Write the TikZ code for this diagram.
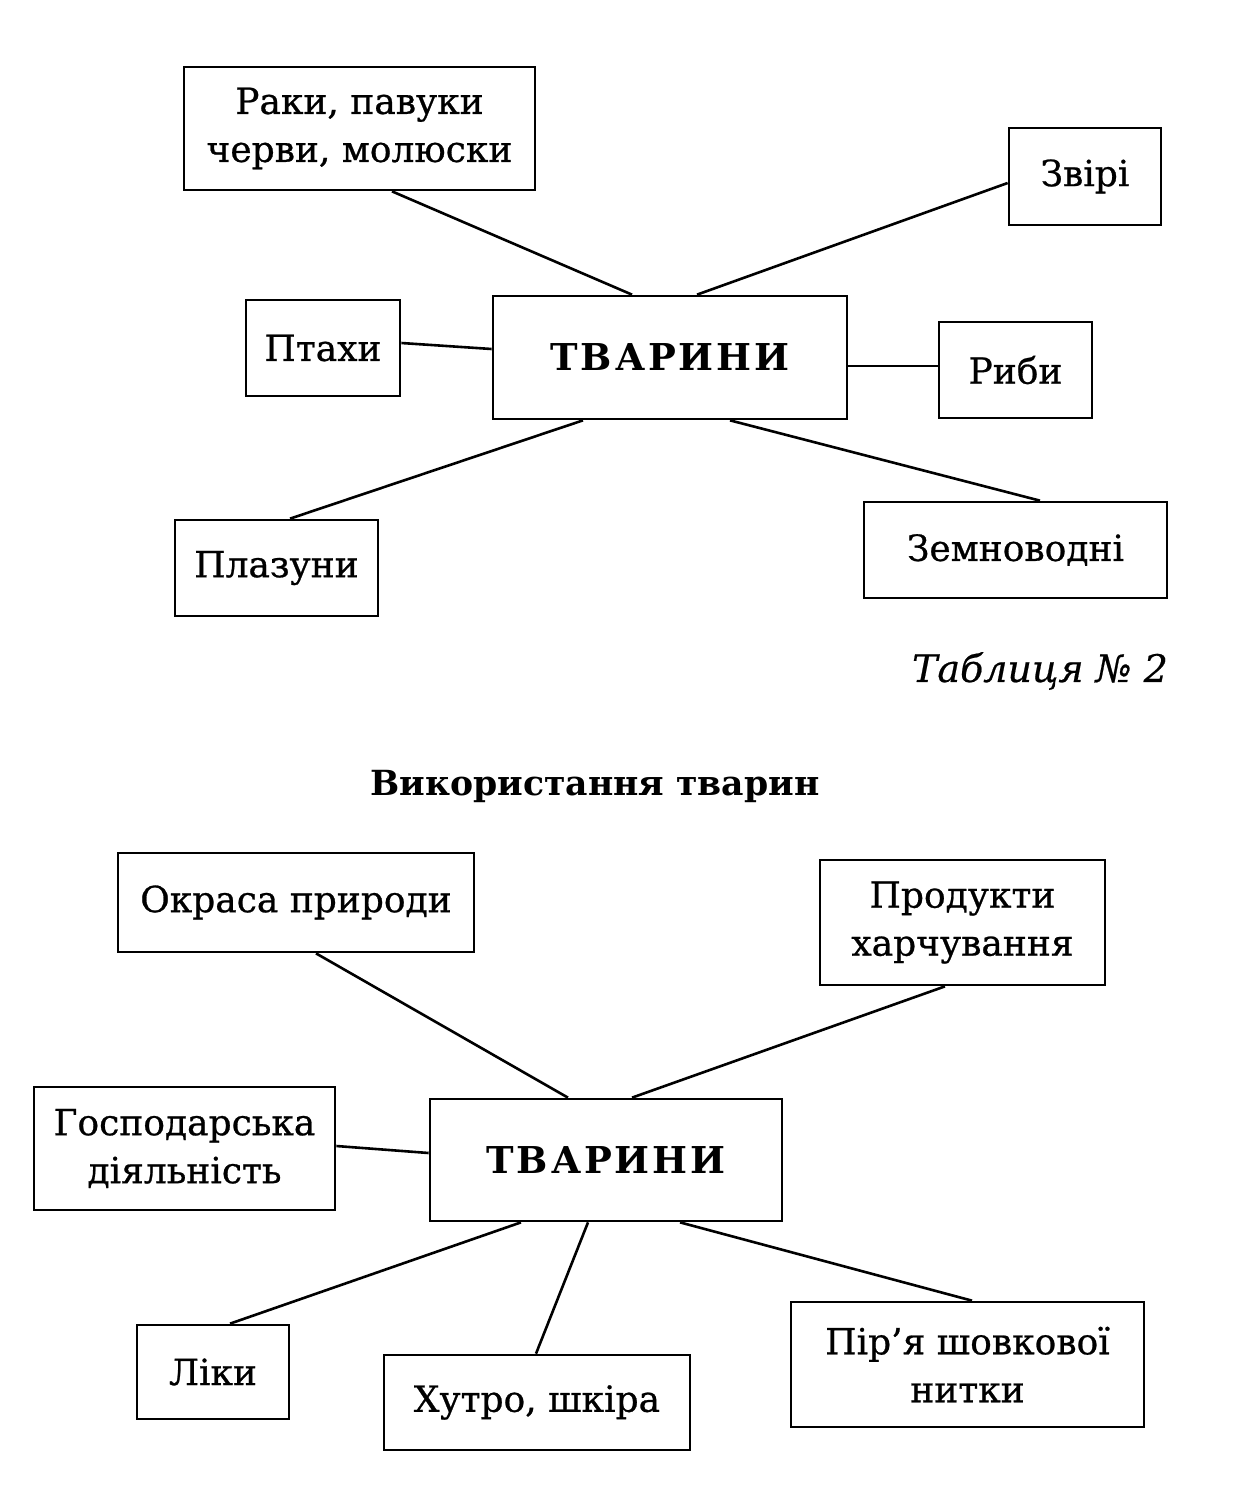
\documentclass[tikz,border=0pt]{standalone}
\usepackage{fontspec}
\setmainfont{DejaVu Serif}[UprightFeatures={FakeBold=0.7},ItalicFeatures={FakeBold=0.5}]
\newfontfamily\spacedbold[LetterSpace=8,BoldFont={DejaVu Serif Bold}]{DejaVu Serif}
\begin{document}
\begin{tikzpicture}[x=0.5pt,y=-0.5pt,
  box/.style={draw,line width=1.35pt,rectangle,inner sep=0pt,align=center,
    font=\fontsize{18}{24}\selectfont},
  centre/.style={box,font=\spacedbold\bfseries\fontsize{18.5}{24}\selectfont},
  link/.style={line width=1.3pt}]
\useasboundingbox (0,0) rectangle (1239,1495);
% --- top diagram ---
\node[box,minimum width=175.5pt,minimum height=61.5pt] (rak) at (359.5,128.5) {Раки, павуки\\черви, молюски};
\node[box,minimum width=76pt,minimum height=48.5pt] (zviri) at (1085,176.5) {Звірі};
\node[box,minimum width=77pt,minimum height=48pt] (ptahy) at (323,348) {Птахи};
\node[centre,minimum width=177pt,minimum height=61.5pt] (tv1) at (670,357.5) {ТВАРИНИ};
\node[box,minimum width=76.5pt,minimum height=48pt] (ryby) at (1015.5,370) {Риби};
\node[box,minimum width=101.5pt,minimum height=48pt] (plaz) at (276.5,568) {Плазуни};
\node[box,minimum width=151.5pt,minimum height=48pt] (zemn) at (1015.5,550) {Земноводні};
\node[font=\itshape\fontsize{19}{24}\selectfont,anchor=east] (tabl) at (1175,671) {Таблиця № 2};
\node[font=\bfseries\fontsize{17.3}{24}\selectfont] (title) at (595,786) {Використання тварин};
\draw[link] ([xshift=16.25pt]rak.south) -- ([xshift=-19pt]tv1.north);
\draw[link] ([yshift=-3.25pt]zviri.west) -- ([xshift=13.5pt]tv1.north);
\draw[link] ([yshift=2.5pt]ptahy.east) -- ([yshift=4.25pt]tv1.west);
\draw[link] ([yshift=-4.25pt]tv1.east) -- ([yshift=2pt]ryby.west);
\draw[link] ([xshift=-43.5pt]tv1.south) -- ([xshift=6.75pt]plaz.north);
\draw[link] ([xshift=30pt]tv1.south) -- ([xshift=12.25pt]zemn.north);
% --- bottom diagram ---
\node[box,minimum width=178pt,minimum height=49.5pt] (okr) at (296,902.5) {Окраса природи};
\node[box,minimum width=142.5pt,minimum height=62.5pt] (prod) at (962.5,922.5) {Продукти\\харчування};
\node[box,minimum width=150.5pt,minimum height=61.5pt] (gosp) at (184.5,1148.5) {Господарська\\діяльність};
\node[centre,minimum width=176pt,minimum height=61pt] (tv2) at (606,1160) {ТВАРИНИ};
\node[box,minimum width=76pt,minimum height=47pt] (liky) at (213,1372) {Ліки};
\node[box,minimum width=153pt,minimum height=47.5pt] (hutro) at (537,1402.5) {Хутро, шкіра};
\node[box,minimum width=176.5pt,minimum height=62.5pt] (pira) at (967.5,1364.5) {Пір’я шовкової\\нитки};
\draw[link] ([xshift=10pt]okr.south) -- ([xshift=-19pt]tv2.north);
\draw[link] ([xshift=-8.75pt]prod.south) -- ([xshift=13pt]tv2.north);
\draw[link] ([yshift=1.25pt]gosp.east) -- ([yshift=3.5pt]tv2.west);
\draw[link] ([xshift=-42.5pt]tv2.south) -- ([xshift=8.5pt]liky.north);
\draw[link] ([xshift=-9pt]tv2.south) -- ([xshift=-0.5pt]hutro.north);
\draw[link] ([xshift=37pt]tv2.south) -- ([xshift=2.25pt]pira.north);
\end{tikzpicture}
\end{document}
